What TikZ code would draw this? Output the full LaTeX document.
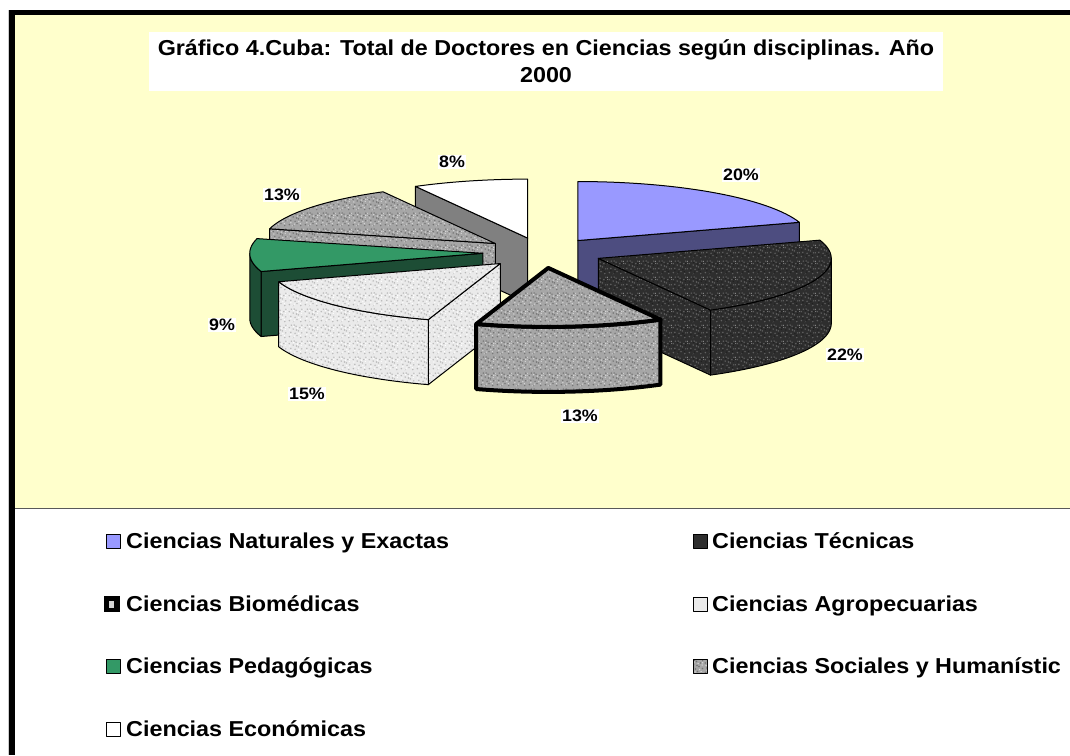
\documentclass[tikz,border=0pt]{standalone}
\usepackage{fontspec}
\usetikzlibrary{patterns}
\newfontfamily\chartfont{Liberation Sans}[FakeStretch=1.08]
\definecolor{bgyellow}{HTML}{FFFFCC}
\definecolor{natTop}{HTML}{9999FF}
\definecolor{natSide}{HTML}{4D4D80}
\definecolor{tecTop}{HTML}{2E2E2E}
\definecolor{pedTop}{HTML}{339966}
\definecolor{pedSide}{HTML}{1D4D35}
\definecolor{midGrey}{HTML}{A6A6A6}
\definecolor{lightGrey}{HTML}{EAEAEA}
\definecolor{ecoSide}{HTML}{808080}
% speckle tiles (dots only, base colour is filled separately)
\newcommand\specks[2]{% dark, light
  \pgfsetfillcolor{#1}
  \foreach \sx/\sy in {1.5/2.5,5/1.3,9.5/3.5,13.5/1.5,3/7,7.5/6,11/8.5,14.5/6.5,1.3/12,5.5/10.5,8.5/13.5,12.5/12,14.6/14.5,3.5/14.6,9/9.5,6.5/14.7}
    {\pgfpathcircle{\pgfpoint{\sx pt}{\sy pt}}{0.85pt}}
  \pgfusepath{fill}
  \pgfsetfillcolor{#2}
  \foreach \sx/\sy in {3/4.5,7/3,11.5/5.5,2/9.5,6/13,10/11.5,14/10,13/3.5,14.6/12.2,4.5/1.2}
    {\pgfpathcircle{\pgfpoint{\sx pt}{\sy pt}}{0.75pt}}
  \pgfusepath{fill}}
\pgfdeclarepatterninherentlycolored{graniteMid}{\pgfpointorigin}{\pgfpoint{16pt}{16pt}}{\pgfpoint{16pt}{16pt}}{\specks{black!55}{white!85!black}}
\pgfdeclarepatterninherentlycolored{graniteLight}{\pgfpointorigin}{\pgfpoint{16pt}{16pt}}{\pgfpoint{16pt}{16pt}}{\specks{black!28}{white}}
\pgfdeclarepatterninherentlycolored{graniteDark}{\pgfpointorigin}{\pgfpoint{16pt}{16pt}}{\pgfpoint{16pt}{16pt}}{\specks{black!62}{black!88}}
\def\A{233}\def\B{59}\def\H{65}\def\E{0.257}
\def\Cx{542.6}\def\Cy{252.8}
\newcommand\slicepos[3]{%
  \pgfmathsetmacro\mm{(#2+#3)/2}%
  \pgfmathsetmacro\px{\Cx+\E*\A*sin(\mm)}%
  \pgfmathsetmacro\py{\Cy-\E*\B*cos(\mm)}%
  \coordinate (#1) at (\px,\py);}
\newcommand\topface[3]{\path[#1] (0,0) -- plot[domain=#2:#3,samples=60] ({\A*sin(\x)},{-\B*cos(\x)}) -- cycle;}
\newcommand\wallface[3]{\path[#1] plot[domain=#2:#3,samples=60] ({\A*sin(\x)},{-\B*cos(\x)}) -- plot[domain=#3:#2,samples=60] ({\A*sin(\x)},{\H-\B*cos(\x)}) -- cycle;}
\newcommand\cutface[2]{\path[#1] (0,0) -- ({\A*sin(#2)},{-\B*cos(#2)}) -- ({\A*sin(#2)},{\H-\B*cos(#2)}) -- (0,\H) -- cycle;}
\tikzset{
  face/.style={draw=black,line width=1pt},
  midtex/.style={preaction={fill=midGrey},pattern=graniteMid},
  lighttex/.style={preaction={fill=lightGrey},pattern=graniteLight},
  darktex/.style={preaction={fill=tecTop},pattern=graniteDark},
  lbl/.style={fill=white,inner sep=1.2pt,font=\chartfont\bfseries\fontsize{16.5}{18}\selectfont},
  legtxt/.style={anchor=base west,inner sep=0pt,font=\chartfont\bfseries\fontsize{21.6}{24}\selectfont},
  legbox/.style={draw=black,line width=1pt},
  ttl/.style={anchor=base,inner sep=0pt,font=\chartfont\bfseries\fontsize{21.6}{24}\selectfont}
}
\begin{document}
\begin{tikzpicture}[x=1pt,y=-1pt,line join=round]
\useasboundingbox (0,0) rectangle (1070,755);
\clip (0,0) rectangle (1070,755);
% frame
\fill[white] (0,0) rectangle (1070,755);
\fill[bgyellow] (15,15) rectangle (1070,508);
\draw[black!65,line width=1.5pt] (15,508.5) -- (1070,508.5);
\fill[black] (9,10) rectangle (15,755);
\fill[black] (9,10) rectangle (1070,15);
\draw[black!20,line width=1pt] (8,10) -- (8,755);
% title
\fill[white] (149,32) rectangle (943,91);
\node[ttl] (title1) at (546,55) {Gráfico 4.Cuba: Total de Doctores en Ciencias según disciplinas. Año};
\node[ttl] (title2) at (546,82) {2000};
% slice positions
\slicepos{nat}{0}{72}
\slicepos{tec}{72}{151.2}
\slicepos{bio}{151.2}{198}
\slicepos{agr}{198}{252}
\slicepos{ped}{252}{284.4}
\slicepos{soc}{284.4}{331.2}
\slicepos{eco}{331.2}{360}
% Economicas
\begin{scope}[shift={(eco)}]
  \cutface{face,fill=ecoSide}{331.2}
  \topface{face,fill=white}{331.2}{360}
\end{scope}
% Naturales
\begin{scope}[shift={(nat)}]
  \cutface{face,fill=natSide}{72}
  \topface{face,fill=natTop}{0}{72}
\end{scope}
% Sociales
\begin{scope}[shift={(soc)}]
  \cutface{face,midtex}{284.4}
  \topface{face,midtex}{284.4}{331.2}
\end{scope}
% Pedagogicas
\begin{scope}[shift={(ped)}]
  \cutface{face,fill=pedSide}{252}
  \wallface{face,fill=pedSide}{252}{270}
  \topface{face,fill=pedTop}{252}{284.4}
\end{scope}
% Tecnicas
\begin{scope}[shift={(tec)}]
  \cutface{face,darktex}{151.2}
  \wallface{face,darktex}{90}{151.2}
  \topface{face,darktex}{72}{151.2}
\end{scope}
% Agropecuarias
\begin{scope}[shift={(agr)}]
  \cutface{face,lighttex}{198}
  \wallface{face,lighttex}{198}{252}
  \topface{face,lighttex}{198}{252}
\end{scope}
% Biomedicas
\begin{scope}[shift={(bio)}]
  \wallface{face,line width=4pt,midtex}{151.2}{198}
  \topface{face,line width=4pt,midtex}{151.2}{198}
\end{scope}
% percentage labels
\node[lbl] (p20) at (741,175) {20\%};
\node[lbl] (p22) at (845,355) {22\%};
\node[lbl] (p13b) at (580,416) {13\%};
\node[lbl] (p15) at (307,394) {15\%};
\node[lbl] (p9) at (222,325) {9\%};
\node[lbl] (p13s) at (282,195) {13\%};
\node[lbl] (p8) at (452,162) {8\%};
% legend
\draw[legbox,fill=natTop] (106,534) rectangle (120,548);
\node[legtxt] (l1) at (126,548.5) {Ciencias Naturales y Exactas};
\draw[legbox,fill=tecTop] (693,534) rectangle (707,548);
\node[legtxt] (l2) at (712,548.5) {Ciencias Técnicas};
\fill[black] (104,596) rectangle (120,612);
\fill[midGrey!50!white] (109,601) rectangle (114,608);
\node[legtxt] (l3) at (126,611.5) {Ciencias Biomédicas};
\draw[legbox,fill=lightGrey] (693,597) rectangle (707,611);
\node[legtxt] (l4) at (712,611.5) {Ciencias Agropecuarias};
\draw[legbox,fill=pedTop] (106,659) rectangle (120,673);
\node[legtxt] (l5) at (126,673.5) {Ciencias Pedagógicas};
\draw[legbox,midtex] (693,659) rectangle (707,673);
\node[legtxt] (l6) at (712,673.5) {Ciencias Sociales y Humanístic};
\draw[legbox,fill=white] (106,722) rectangle (120,736);
\node[legtxt] (l7) at (126,736.5) {Ciencias Económicas};
\end{tikzpicture}
\end{document}
